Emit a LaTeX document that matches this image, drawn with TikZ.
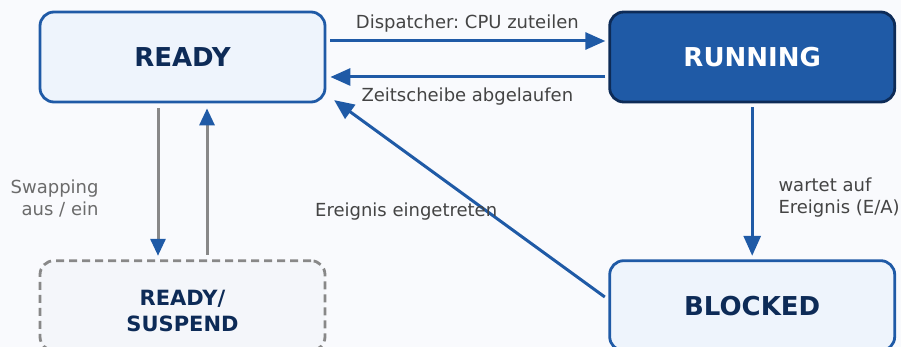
\documentclass[tikz,border=0pt]{standalone}
\usepackage{fontspec}
\setmainfont{DejaVu Sans}
\usepackage{tikz}
\usetikzlibrary{arrows.meta,calc}
\definecolor{bgc}{HTML}{F9FAFD}
\definecolor{blu}{HTML}{1F5AA6}
\definecolor{navy}{HTML}{0D2B57}
\definecolor{pale}{HTML}{EEF4FC}
\definecolor{palegr}{HTML}{F4F6FA}
\definecolor{lgray}{HTML}{888888}
\definecolor{ltext}{HTML}{444444}
\definecolor{stext}{HTML}{6B6B6B}
\frenchspacing

\begin{document}
\begin{tikzpicture}
	[
	 x = 1pt,
	 y = -1pt,
	 every node/.style = {inner sep = 0pt,
	                      font = \fontsize{18}{22}\selectfont
	                     },
	 state/.style = {shape = rectangle,
	                 rounded corners = 14pt,
	                 draw = blu,
	                 line width = 2.8pt,
	                 fill = pale,
	                 text = navy,
	                 align = center,
	                 minimum width = 285pt,
	                 minimum height = 90pt,
	                 font = \bfseries\fontsize{26}{30}\selectfont
	                },
	 run/.style  = {state, fill = blu, draw = navy, text = white},
	 susp/.style = {state, draw = lgray, dash pattern = on 8pt off 5pt,
	                fill = palegr, text height = 52pt,
	                font = \bfseries\fontsize{21}{26}\selectfont},
	 arr/.style  = {draw = blu, line width = 3pt,
	                -{Triangle[length=20pt,width=17pt]}},
	 sw/.style   = {draw = lgray, line width = 3pt,
	                -{Triangle[length=17pt,width=15pt,color=blu]}},
	 lbl/.style  = {text = ltext},
	 slbl/.style = {text = stext}
	]

	\newcommand{\RdySusp}{READY/\\SUSPEND}
	\newcommand{\WaitEA}{wartet auf\\Ereignis (E/A)}
	\newcommand{\SwapIO}{Swapping\\aus / ein}

	\useasboundingbox (0,0) rectangle (901,347);
	\clip (0,0) rectangle (901,347);
	\fill [bgc] (0,0) rectangle (901,347);

	\node [state] (A) at (182.5,57)    {READY};
	\node [run]   (B) at (752.2,57)    {RUNNING};
	\node [state] (C) at (752.2,305.7) {BLOCKED};
	\node [susp]  (D) at (182.5,305.7) {\RdySusp};

	\draw [arr, shorten <=4pt, shorten >=3pt] ([yshift=16pt]A.east) -- ([yshift=16pt]B.west)
	      node [lbl, midway, anchor=base, yshift=12pt] {Dispatcher: CPU zuteilen};
	\draw [arr, shorten <=3pt, shorten >=4pt] ([yshift=-20pt]B.west) -- ([yshift=-20pt]A.east)
	      node [lbl, midway, anchor=base, yshift=-25pt] {Zeitscheibe abgelaufen};
	\draw [arr] ([shift={(-3.5pt,8.7pt)}]C.west) -- ([shift={(7.7pt,3.3pt)}]A.south east)
	      node [lbl, midway, anchor=base, xshift=-63.3pt, yshift=-18.4pt] {Ereignis eingetreten};
	\draw [arr, shorten <=4pt, shorten >=3.5pt] (B.south) -- (C.north)
	      node [lbl, midway, anchor=west, align=left, xshift=24.8pt, yshift=-16.4pt] {\WaitEA};

	\draw [sw, shorten <=5pt, shorten >=3.5pt] ([xshift=-24.5pt]A.south) -- ([xshift=-24.5pt]D.north)
	      node [slbl, midway, anchor=east, align=right, xshift=-58pt, yshift=-16.8pt] {\SwapIO};
	\draw [sw, shorten <=4.5pt, shorten >=5pt] ([xshift=24.5pt]D.north) -- ([xshift=24.5pt]A.south);
\end{tikzpicture}
\end{document}
